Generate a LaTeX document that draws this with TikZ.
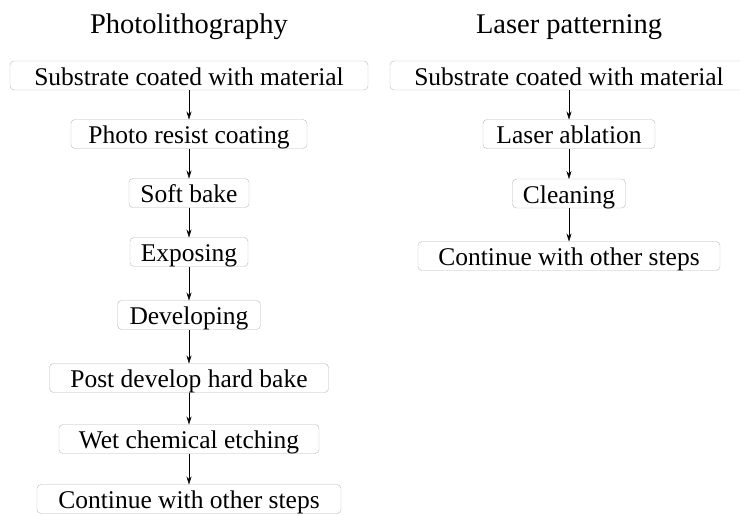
\documentclass[tikz,border=0pt]{standalone}
\usepackage{fontspec}
\setmainfont{Liberation Serif}
\usetikzlibrary{positioning,arrows.meta}

\begin{document}
\begin{tikzpicture}[->,>={Stealth[length=8pt,width=5pt]},node distance=30pt and 0pt,
  thin,
  step box/.style={rectangle,rounded corners=4pt,draw=black!28,outer sep=0pt,
    inner xsep=0pt,inner ysep=5pt,text height=19pt,text depth=0pt,
    font=\fontsize{25.5}{27}\selectfont},
  title/.style={anchor=base,font=\fontsize{28.5}{30}\selectfont}]
   \useasboundingbox (0pt,0pt) rectangle (740pt,-515pt);
   % photolithography column
   \node[title] (pl)  at (189pt,-33pt) {Photolithography};
   \node[step box,minimum width=358pt] (p_1) at (189pt,-75.5pt) {Substrate coated with material};
   \node[step box,minimum width=236pt] (p_2) [below=29.5pt of p_1] {Photo resist coating};
   \node[step box,minimum width=120pt] (p_3) [below=of p_2] {Soft bake};
   \node[step box,minimum width=118pt] (p_4) [below=of p_3] {Exposing};
   \node[step box,minimum width=143pt] (p_5) [below=34pt of p_4] {Developing};
   \node[step box,minimum width=279pt] (p_6) [below=34pt of p_5] {Post develop hard bake};
   \node[step box,minimum width=260pt] (p_7) [below=32pt of p_6] {Wet chemical etching};
   \node[step box,minimum width=304pt] (p_8) [below=31pt of p_7] {Continue with other steps};
   % laser column
   \node[title] (lp)  at (569pt,-33pt) {Laser patterning};
   \node[step box,minimum width=358pt] (l_1) at (569pt,-75.5pt) {Substrate coated with material};
   \node[step box,minimum width=172pt] (l_2) [below=29.5pt of l_1] {Laser ablation};
   \node[step box,minimum width=113pt] (l_3) [below=30.5pt of l_2] {Cleaning};
   \node[step box,minimum width=302pt] (l_4) [below=33.5pt of l_3] {Continue with other steps};
    \path[->]
    (p_1) edge (p_2)
    (p_2) edge (p_3)
    (p_3) edge (p_4)
    (p_4) edge (p_5)
    (p_5) edge (p_6)
    (p_6) edge (p_7)
    (p_7) edge (p_8)
    (l_1) edge (l_2)
    (l_2) edge (l_3)
    (l_3) edge (l_4);
\end{tikzpicture}
\end{document}
